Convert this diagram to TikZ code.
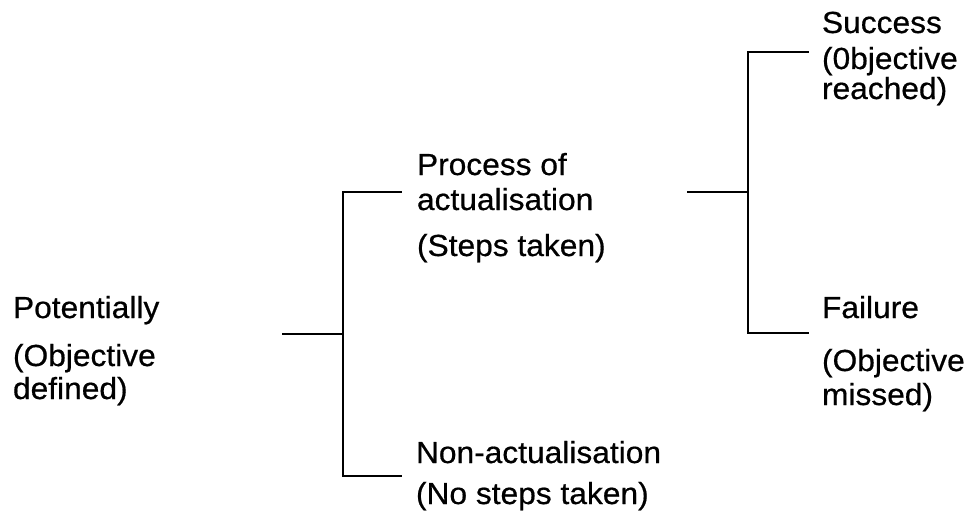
\documentclass[tikz,border=0pt]{standalone}
\usepackage{fontspec}
\setmainfont[FakeStretch=1.04,FakeBold=0.6]{Liberation Sans}
\begin{document}
\begin{tikzpicture}[x=1pt,y=-1pt,
  lbl/.style={anchor=base west,inner sep=0pt,outer sep=0pt,font=\fontsize{30.5}{36}\selectfont},
  tree/.style={line width=1.6pt,line cap=rect}]
\useasboundingbox (0,0) rectangle (971,519);
% labels
\node[lbl] (pot1) at (13,318) {Potentially};
\node[lbl] (pot2) at (13,366) {(Objective};
\node[lbl] (pot3) at (13,399) {defined)};
\node[lbl] (pro1) at (417,175) {Process of};
\node[lbl] (pro2) at (417,210) {actualisation};
\node[lbl] (pro3) at (417,256) {(Steps taken)};
\node[lbl] (non1) at (416,463) {Non-actualisation};
\node[lbl] (non2) at (416,504) {(No steps taken)};
\node[lbl] (suc1) at (822,33) {Success};
\node[lbl] (suc2) at (822,69) {(0bjective};
\node[lbl] (suc3) at (822,99) {reached)};
\node[lbl] (fai1) at (822,318) {Failure};
\node[lbl] (fai2) at (822,371) {(Objective};
\node[lbl] (fai3) at (822,405) {missed)};
% tree junctions
\coordinate (a0) at (283,334);
\coordinate (a1) at (343,334);
\coordinate (a2) at (343,192);
\coordinate (a3) at (343,476);
\coordinate (a4) at (401,192);
\coordinate (a5) at (401,476);
\coordinate (b0) at (688,192);
\coordinate (b1) at (748,192);
\coordinate (b2) at (748,52);
\coordinate (b3) at (748,333);
\coordinate (b4) at (808,52);
\coordinate (b5) at (808,333);
\draw[tree] (a0) -- (a1);
\draw[tree] (a4) -- (a2) -- (a3) -- (a5);
\draw[tree] (b0) -- (b1);
\draw[tree] (b4) -- (b2) -- (b3) -- (b5);
\end{tikzpicture}
\end{document}
